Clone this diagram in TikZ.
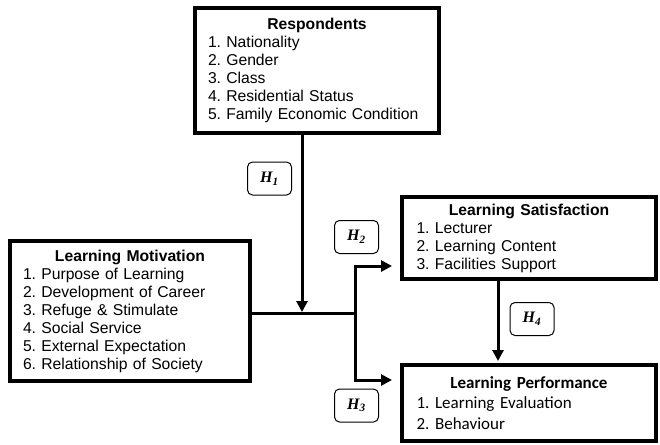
\documentclass[tikz,border=0pt]{standalone}
\usepackage{fontspec}
\setmainfont{Liberation Sans}
\newfontfamily\calibri{Carlito}
\newfontfamily\timesfont{Liberation Serif}
\usetikzlibrary{arrows.meta}
\frenchspacing

\newcommand{\boxtitle}[1]{\makebox[\linewidth]{\bfseries #1}}
\newcommand{\hyplabel}[1]{{\timesfont\bfseries\itshape H\textsubscript{#1}}}

\begin{document}
\begin{tikzpicture}[
    x=1pt, y=-1pt,
    panel/.style={draw, line width=4pt, inner xsep=13pt, inner ysep=0pt,
                  align=left, font=\fontsize{15.7}{18}\selectfont},
    hbox/.style={draw, line width=1pt, rounded corners=5pt,
                 minimum width=44pt, minimum height=33pt, inner sep=0pt,
                 font=\fontsize{16}{18}\selectfont},
    link/.style={line width=3pt},
    arrowlink/.style={link, -{Triangle[length=11pt, width=11pt]}}
]
\useasboundingbox (0,0) rectangle (660,444);

% ---------- boxes ----------
\node[panel, text width=218pt, minimum width=244pt, minimum height=125pt]
  (resp) at (317,70.5)
  {\boxtitle{Respondents}\\
   1. Nationality\\
   2. Gender\\
   3. Class\\
   4. Residential Status\\
   5. Family Economic Condition};

\node[panel, text width=214pt, minimum width=240pt, minimum height=140pt]
  (motiv) at (130,311)
  {\boxtitle{Learning Motivation}\\
   1. Purpose of Learning\\
   2. Development of Career\\
   3. Refuge \& Stimulate\\
   4. Social Service\\
   5. External Expectation\\
   6. Relationship of Society};

\node[panel, inner xsep=14.5pt, text width=225pt, minimum width=254pt,
      minimum height=82pt]
  (sat) at (529,238)
  {\boxtitle{Learning Satisfaction}\\
   1. Lecturer\\
   2. Learning Content\\
   3. Facilities Support};

\node[panel, inner xsep=14.5pt, text width=225pt, minimum width=254pt,
      minimum height=76pt, font=\calibri\fontsize{17}{20.4}\selectfont]
  (perf) at (529,403)
  {\boxtitle{Learning Performance}\\
   1. Learning Evaluation\\
   2. Behaviour};

% ---------- hypotheses ----------
\node[hbox] (h1) at (269.5,178.5) {\hyplabel{1}};
\node[hbox] (h2) at (356.5,237) {\hyplabel{2}};
\node[hbox] (h3) at (356.5,405.5) {\hyplabel{3}};
\node[hbox] (h4) at (532,319) {\hyplabel{4}};

% ---------- connectors ----------
\coordinate (join) at (302,313);
\coordinate (fork) at (355,313);
\coordinate (forkup) at (355,266);
\coordinate (forkdown) at (355,380);

\draw[link] (motiv.east |- join) -- (fork);
\draw[arrowlink, shorten >=1pt] (resp.south -| join) -- (join);
\draw[arrowlink, shorten >=8pt] (fork) |- (forkup -| sat.west);
\draw[arrowlink, shorten >=8pt] (fork) |- (forkdown -| perf.west);
\draw[arrowlink, shorten >=2pt] ([xshift=-31pt]sat.south) -- ([xshift=-31pt]perf.north);

\end{tikzpicture}
\end{document}
